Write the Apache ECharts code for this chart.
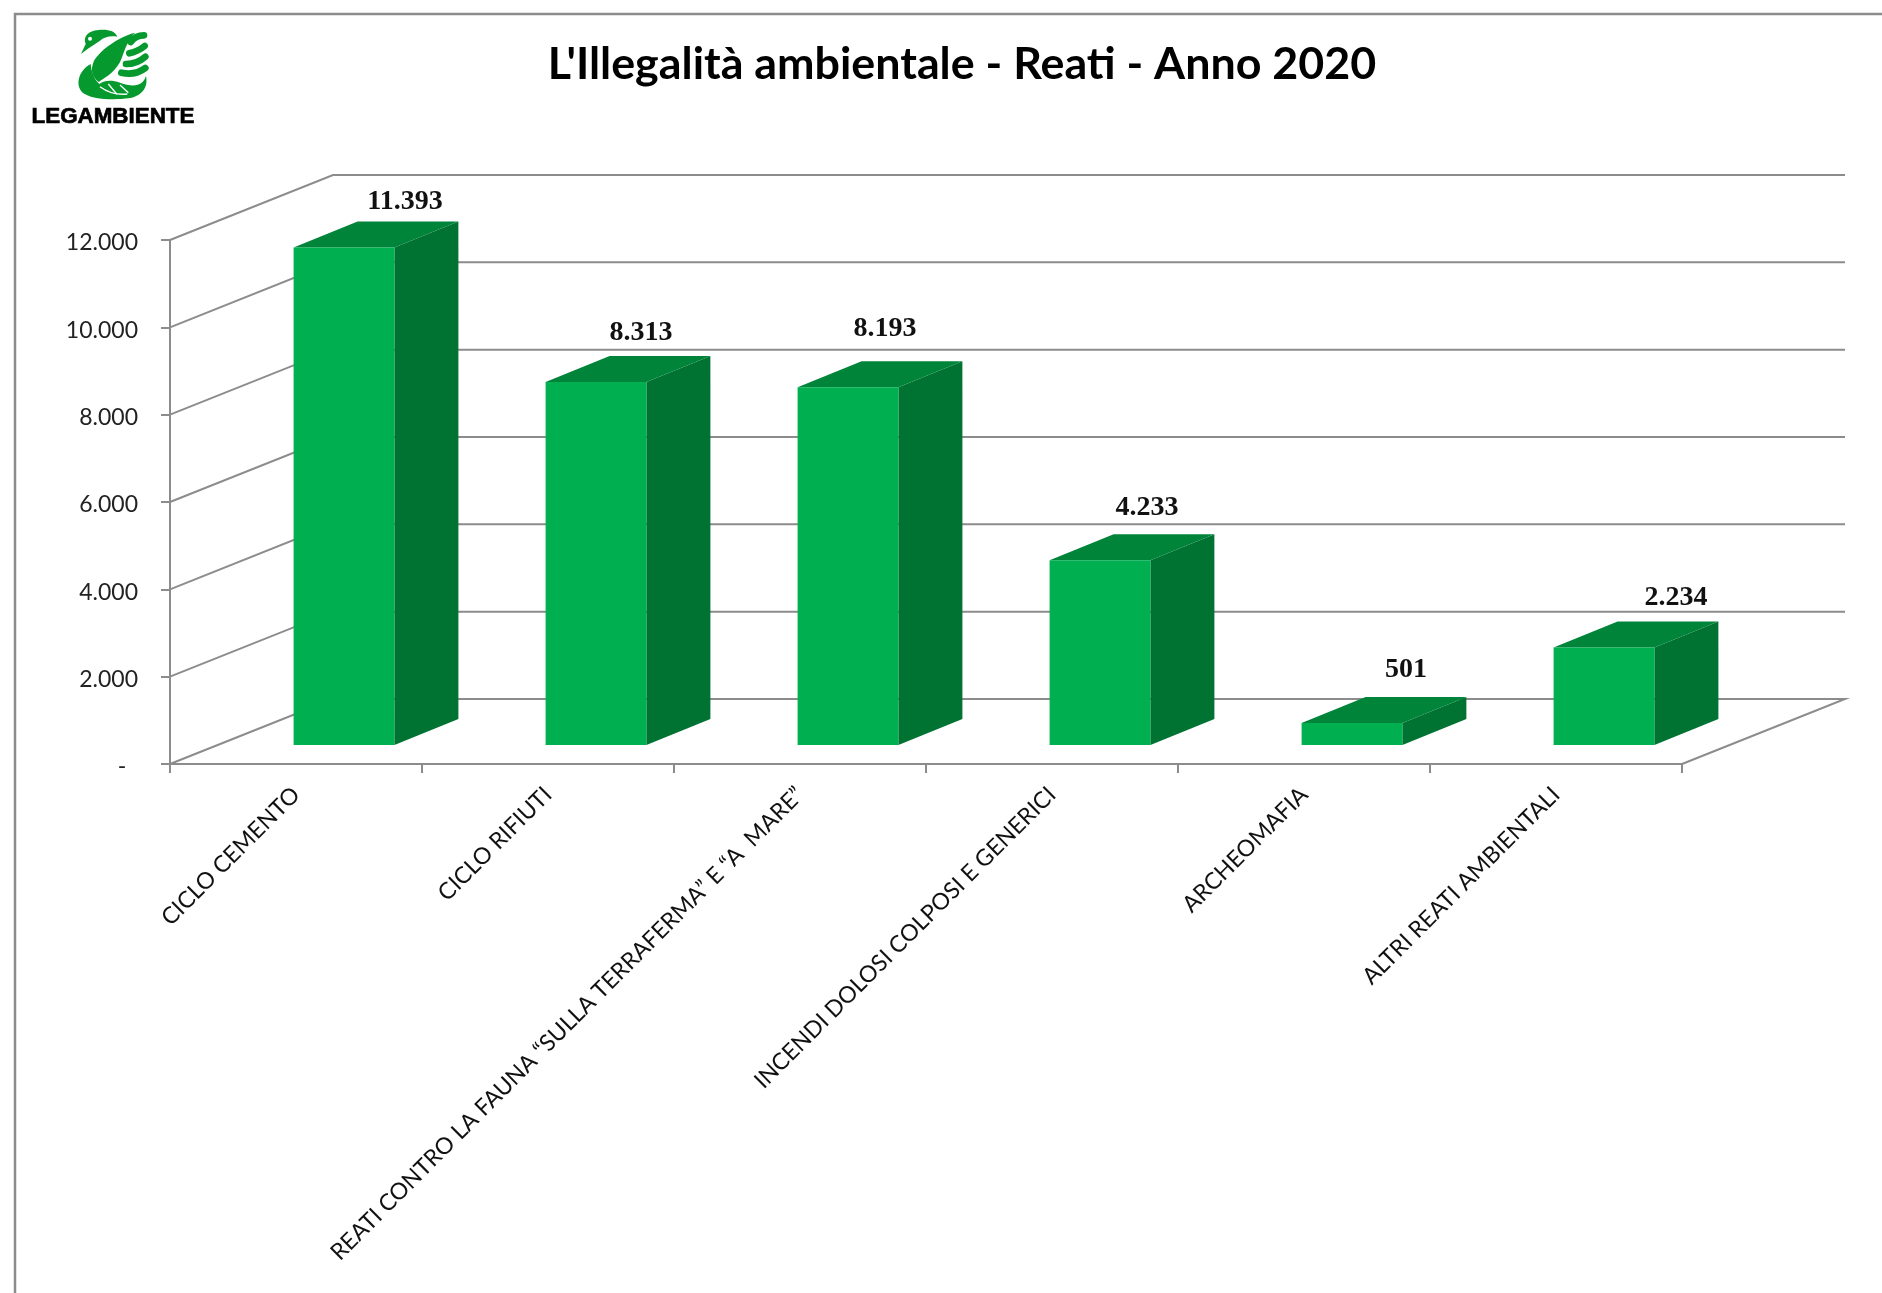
<!DOCTYPE html>
<html>
<head>
<meta charset="utf-8">
<style>html,body{margin:0;padding:0;background:#fff}#c{width:1882px;height:1293px}</style>
<script src="https://cdn.jsdelivr.net/npm/echarts@6/dist/echarts.min.js"></script>
</head>
<body>
<div id="c"></div>
<script>
const categories = ['CICLO CEMENTO','CICLO RIFIUTI','REATI CONTRO LA FAUNA “SULLA TERRAFERMA” E “A  MARE”','INCENDI DOLOSI COLPOSI E GENERICI','ARCHEOMAFIA','ALTRI REATI AMBIENTALI'];
const values = [11393, 8313, 8193, 4233, 501, 2234];
const yTicks = [0, 2000, 4000, 6000, 8000, 10000, 12000];
const valueLabels = ['11.393','8.313','8.193','4.233','501','2.234'];

// presentation only
const labelDx = [60, 44, 36, 46, 53, 71];
const labelDy = [20, 23, 32, 26, 27, 24];
const WALL = [163, -65], DEPTH = [64, -26], FACE_SHIFT = [48, -19], BAR_FRAC = 0.40;
const C_FRONT = '#00B050', C_SIDE = '#007232', C_TOP = '#00843A', C_GRID = '#8c8c8c';

const chart = echarts.init(document.getElementById('c'), null, {renderer: 'canvas'});

function wall(params, api) {
  const v = api.value(0);
  const p = api.coord([0, v]);
  const left = p[0] - api.size([1, 0])[0] / 2;
  const right = left + api.size([1, 0])[0] * categories.length;
  const y = p[1];
  const b = [left + WALL[0], y + WALL[1]];
  const end = [right + WALL[0], y + WALL[1]];
  const pts = [[left, y], b, end];
  if (v === 0) pts.push([right, y]);
  return {type: 'polyline', shape: {points: pts}, style: {fill: null, stroke: C_GRID, lineWidth: 2}, silent: true};
}

function bar(params, api) {
  const i = api.value(0);
  const v = api.value(1);
  const band = api.size([1, 0])[0];
  const w = band * BAR_FRAC;
  const cx = api.coord([i, 0])[0] + FACE_SHIFT[0];
  const y0 = api.coord([i, 0])[1] + FACE_SHIFT[1];
  const yt = api.coord([i, v])[1] + FACE_SHIFT[1];
  const l = cx - w / 2, r = cx + w / 2;
  const dx = DEPTH[0], dy = DEPTH[1];
  return {type: 'group', children: [
    {type: 'polygon', shape: {points: [[r, yt], [r + dx, yt + dy], [r + dx, y0 + dy], [r, y0]]}, style: {fill: C_SIDE}},
    {type: 'polygon', shape: {points: [[l, yt], [r, yt], [r + dx, yt + dy], [l + dx, yt + dy]]}, style: {fill: C_TOP}},
    {type: 'rect', shape: {x: l, y: yt, width: w, height: y0 - yt}, style: {fill: C_FRONT}},
    {type: 'text', x: cx + 1 + labelDx[i], y: yt + dy - labelDy[i], style: {
      text: valueLabels[i], fill: '#111', textAlign: 'center', textVerticalAlign: 'middle',
      font: 'bold 28px "Liberation Serif", serif'}}
  ]};
}

const g = 'rgb(6,154,46)';
let shapeCount = 0;
function logoPath(d, style) {
  const name = 'logoShape' + (shapeCount++);
  echarts.graphic.registerShape(name, echarts.graphic.extendPath(d, {}));
  return {type: name, style: style};
}
const fill = {fill: g};
const feather = d => logoPath(d, {fill: null, stroke: g, lineWidth: 20, lineCap: 'round'});
const whiteLine = d => logoPath(d, {fill: null, stroke: '#fff', lineWidth: 4});
const logo = {type: 'group', x: 20, y: 20, scaleX: 1/3, scaleY: 1/3, silent: true, children: [
  logoPath('M183,102 L197,72 C188,50 205,32 235,30 C262,27 285,32 292,50 C270,46 252,52 240,62 C222,74 205,84 183,102 Z', fill),
  logoPath('M212,132 C178,150 165,190 185,215 C210,240 285,240 325,235 C362,230 386,205 378,168 C370,195 345,205 300,188 C275,180 255,180 238,192 C222,178 214,155 212,132 Z', fill),
  logoPath('M345,38 C300,50 245,85 222,122 C210,150 216,170 236,186 C262,170 292,150 305,115 C315,85 325,60 345,38 Z', fill),
  feather('M332,66 C342,52 358,46 372,46'),
  feather('M328,100 C345,96 362,88 374,78'),
  feather('M318,132 C340,132 360,124 376,110'),
  feather('M304,158 C330,164 355,160 376,144'),
  whiteLine('M240,200 C260,215 290,225 322,222'),
  whiteLine('M265,192 L290,222 M300,195 L325,218'),
  {type: 'circle', shape: {cx: 210, cy: 56, r: 6}, style: {fill: '#fff'}}
]};

chart.setOption({
  animation: false,
  backgroundColor: '#fff',
  title: {
    text: "L'Illegalità ambientale - Reati - Anno 2020",
    left: 957, top: 60, textAlign: 'center', textVerticalAlign: 'middle',
    textStyle: {fontFamily: 'Lato', fontWeight: 'bold', fontSize: 44.8, color: '#000'}
  },
  grid: {left: 170, top: 240, width: 1512, height: 524, containLabel: false},
  xAxis: {
    type: 'category', data: categories, boundaryGap: true,
    axisLine: {lineStyle: {color: C_GRID, width: 2}},
    axisTick: {show: true, length: 9, alignWithLabel: false, lineStyle: {color: C_GRID, width: 2}},
    axisLabel: {interval: 0, rotate: 45, margin: 27, fontFamily: 'Lato', fontSize: 23, color: '#111'},
    splitLine: {show: false}
  },
  yAxis: {
    type: 'value', min: 0, max: 12000, interval: 2000,
    axisLine: {show: true, lineStyle: {color: C_GRID, width: 2}},
    axisTick: {show: true, length: 9, lineStyle: {color: C_GRID, width: 2}},
    axisLabel: {margin: 32, color: '#222',
      formatter: v => '{a|' + (v === 0 ? '-  ' : String(v / 1000) + '.000') + '}',
      rich: {a: {fontFamily: 'Lato', fontSize: 23, color: '#222', padding: [6, 0, 0, 0]}}},
    splitLine: {show: false}
  },
  series: [
    {type: 'custom', name: 'griglia', coordinateSystem: 'cartesian2d', z: 1, silent: true, clip: false,
     encode: {y: 0}, data: yTicks.map(v => [v]), renderItem: wall},
    {type: 'custom', name: 'Reati', coordinateSystem: 'cartesian2d', z: 3, clip: false,
     encode: {x: 0, y: 1}, data: values.map((v, i) => [i, v]), renderItem: bar}
  ],
  graphic: [
    {type: 'polyline', silent: true, shape: {points: [[15, 1293], [15, 14], [1882, 14]]}, style: {fill: null, stroke: '#8c8c8c', lineWidth: 2.5}},
    logo,
    {type: 'text', x: 113, y: 117, silent: true, style: {text: 'LEGAMBIENTE', fill: '#000', stroke: '#000', lineWidth: 0.7, textAlign: 'center', textVerticalAlign: 'middle',
      font: 'bold 22.4px "Liberation Sans", Arial, sans-serif'}}
  ]
});
</script>
</body>
</html>
